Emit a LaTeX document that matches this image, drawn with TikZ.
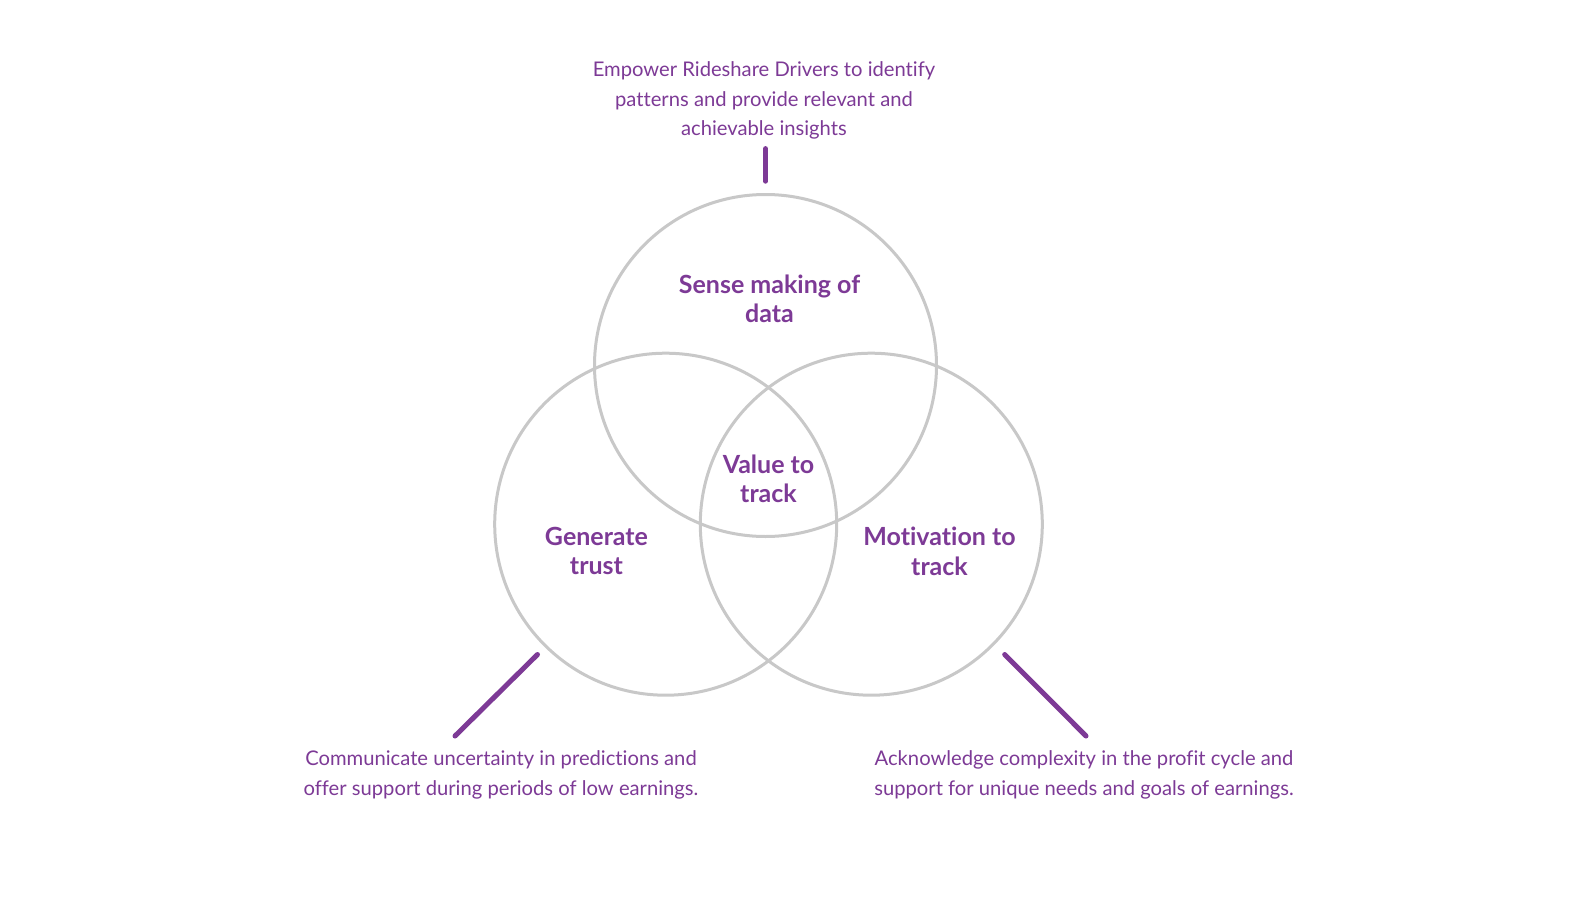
\documentclass[tikz,border=0pt]{standalone}
\usepackage{fontspec}
\setmainfont[Ligatures=NoCommon]{Lato}
\definecolor{purp}{RGB}{125,58,150}
\definecolor{ring}{RGB}{200,200,200}
\begin{document}
\begin{tikzpicture}[x=1pt,y=-1pt,
  ringstyle/.style={draw=ring,line width=3pt},
  lbl/.style={text=purp,align=center,font=\fontsize{25}{29.5}\selectfont\bfseries,inner sep=0pt},
  note/.style={text=purp,align=center,font=\fontsize{20.2}{29.5}\selectfont,inner sep=0pt},
  tick/.style={draw=purp,line width=5pt,line cap=round}]
\useasboundingbox[fill=white] (0,0) rectangle (1596,902);
\draw[ringstyle] (765.5,365.5) circle[radius=171pt];
\draw[ringstyle] (665.7,524.2) circle[radius=171pt];
\draw[ringstyle] (871.3,524.2) circle[radius=171pt];
\node[note] (top) at (764,100.7) {Empower Rideshare Drivers to identify\\patterns and provide relevant and\\achievable insights};
\node[lbl] (sense) at (769.5,298.8) {Sense making of\\data};
\node[lbl] (value) at (768.5,478.8) {Value to\\track};
\node[lbl] (gen) at (596.5,551.2) {Generate\\trust};
\node[lbl] (mot) at (939.5,551.2) {Motivation to\\track};
\node[note] (bl) at (501,775.1) {Communicate uncertainty in predictions and\\offer support during periods of low earnings.};
\node[note] (br) at (1084,775.1) {Acknowledge complexity in the profit cycle and\\support for unique needs and goals of earnings.};
\coordinate (t1) at (765.5,148.6);
\coordinate (t2) at (765.5,181.2);
\coordinate (l1) at (537.5,654.5);
\coordinate (l2) at (455,736);
\coordinate (r1) at (1004.7,654.5);
\coordinate (r2) at (1086,736);
\draw[tick] (t1) -- (t2);
\draw[tick] (l1) -- (l2);
\draw[tick] (r1) -- (r2);
\end{tikzpicture}
\end{document}
